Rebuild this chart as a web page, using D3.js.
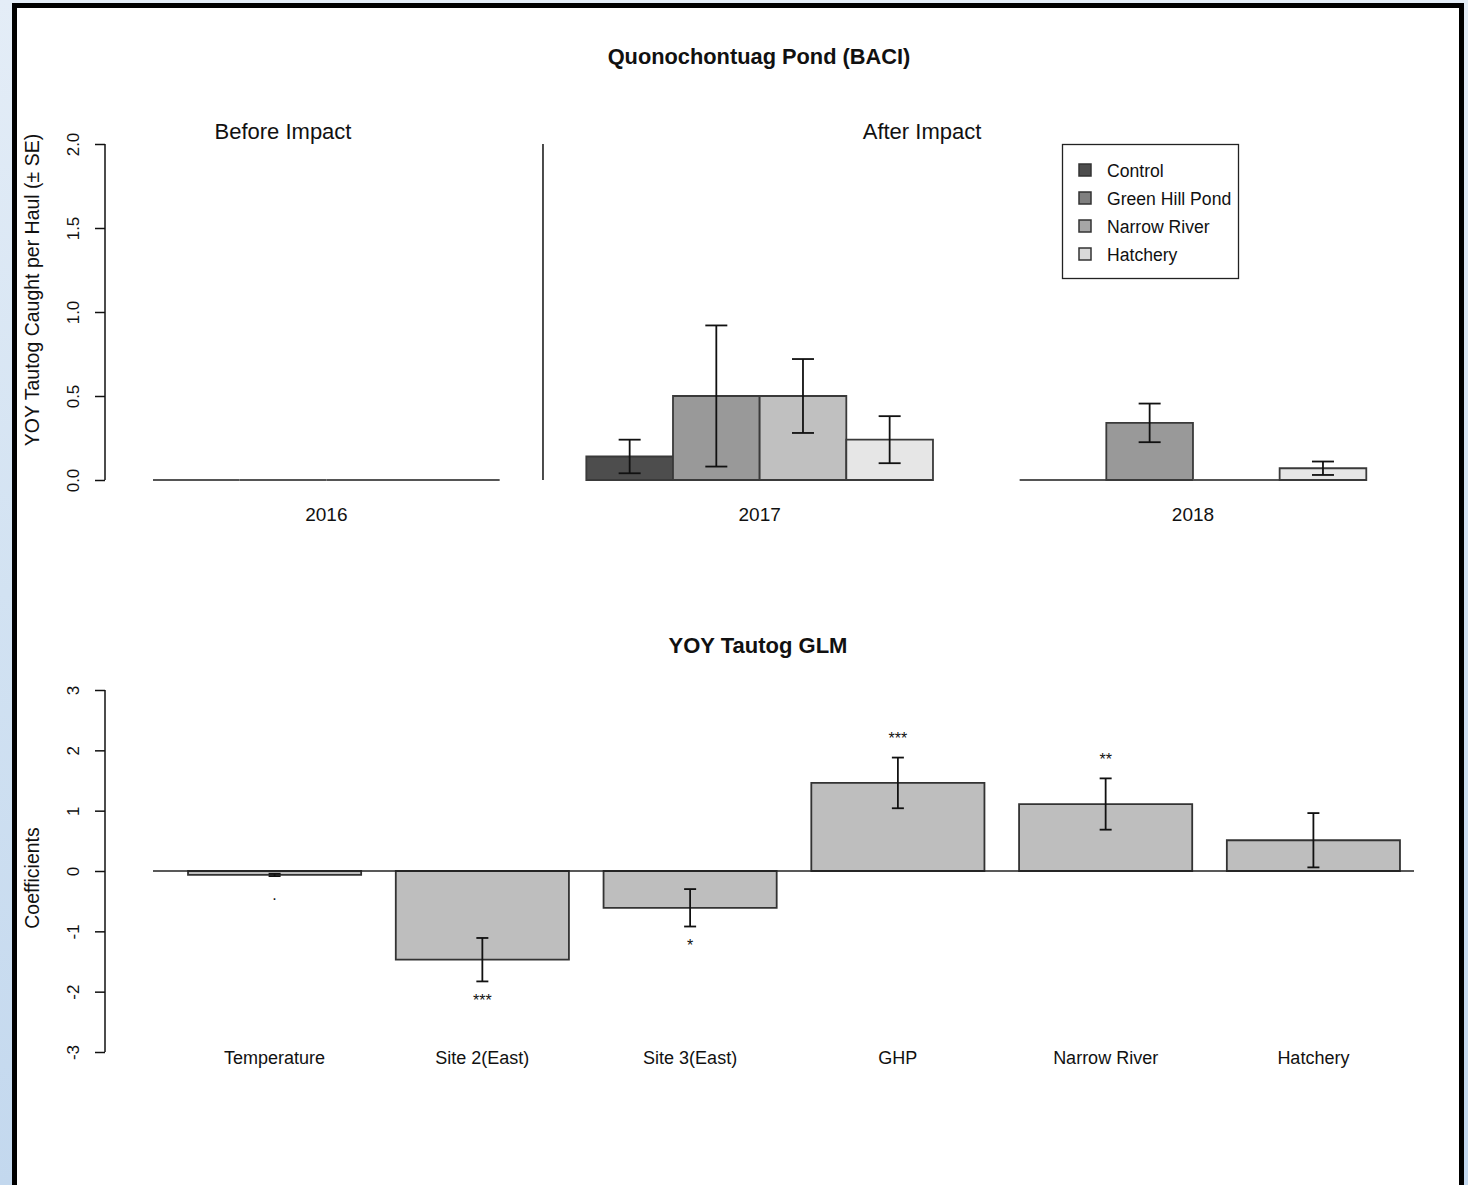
<!DOCTYPE html>
<html>
<head>
<meta charset="utf-8">
<script src="https://cdn.jsdelivr.net/npm/d3@7"></script>
<style>
  html, body { margin: 0; padding: 0; }
  body { width: 1468px; height: 1185px; overflow: hidden;
         background: linear-gradient(to bottom, #e4edf7 0%, #d2e2f2 50%, #c3d8ee 100%); }
  svg { display: block; }
  text { font-family: "Liberation Sans", Arial, sans-serif; fill: #111; }
</style>
</head>
<body>
<script>
// ---------- data ----------
const years = ["2016", "2017", "2018"];
const sites = ["Control", "Green Hill Pond", "Narrow River", "Hatchery"];
// mean YOY tautog per haul, rows = years, columns = sites
const means2016 = [0, 0, 0, 0];
const means2017 = [0.14, 0.50, 0.50, 0.24];
const means2018 = [0, 0.34, 0, 0.07];
const se2016 = [0, 0, 0, 0];
const se2017 = [0.10, 0.42, 0.22, 0.14];
const se2018 = [0, 0.115, 0, 0.04];
const topTicks = [0, 0.5, 1.0, 1.5, 2.0];

const glmTerms = ["Temperature", "Site 2(East)", "Site 3(East)", "GHP", "Narrow River", "Hatchery"];
const glmCoef = [-0.065, -1.47, -0.61, 1.46, 1.11, 0.51];
const glmSE = [0.02, 0.36, 0.31, 0.42, 0.425, 0.45];
const glmSig = [".", "***", "*", "***", "**", ""];
const bottomTicks = [-3, -2, -1, 0, 1, 2, 3];

// ---------- styles ----------
const barFill = ["#4d4d4d", "#999999", "#c0c0c0", "#e6e6e6"];
const legendFill = ["#4d4d4d", "#7f7f7f", "#a6a6a6", "#d9d9d9"];

const W = 1468, H = 1185;
const svg = d3.select("body").append("svg").attr("width", W).attr("height", H);

// frame
svg.append("rect").attr("x", 14.5).attr("y", 5.5).attr("width", 1447).attr("height", H + 20)
  .attr("fill", "#fff").attr("stroke", "#000").attr("stroke-width", 5);

function barPath(x, w, yv, y0) {
  return `M${x},${y0}V${yv}H${x + w}V${y0}Z`;
}

// ================= TOP PANEL =================
svg.append("text").attr("x", 759).attr("y", 64).attr("text-anchor", "middle")
  .attr("font-size", 21.8).attr("font-weight", "bold").text("Quonochontuag Pond (BACI)");

const yTop = d3.scaleLinear().domain([0, 2]).range([480, 144]);
// groups: each group = 4 bars, followed by a one-bar gap
const groupScale = d3.scaleBand().domain(years).range([153, 1366.3]).paddingInner(0.2).paddingOuter(0);
const barScale = d3.scaleBand().domain(sites).range([0, groupScale.bandwidth()]).padding(0);

const topData = [
  {year: "2016", means: means2016, se: se2016},
  {year: "2017", means: means2017, se: se2017},
  {year: "2018", means: means2018, se: se2018}
];

// y axis
const gTopAxis = svg.append("g").attr("transform", "translate(105,0)")
  .call(d3.axisLeft(yTop).tickValues(topTicks).tickSize(10).tickFormat(d3.format(".1f")));
gTopAxis.select(".domain").attr("stroke", "#111").attr("stroke-width", 1.5).attr("d", "M0,144V480");
gTopAxis.selectAll(".tick line").attr("stroke", "#111").attr("stroke-width", 1.5);
gTopAxis.selectAll(".tick text").attr("font-size", 17).attr("fill", "#222")
  .attr("font-family", "Liberation Sans, Arial, sans-serif")
  .attr("text-anchor", "middle").attr("x", 0).attr("dy", 0)
  .attr("transform", "translate(-30,0) rotate(-90)").attr("y", 0)
  .attr("dominant-baseline", "middle");

svg.append("text").attr("transform", "translate(39,290) rotate(-90)")
  .attr("text-anchor", "middle").attr("font-size", 19.5).attr("fill", "#222")
  .text("YOY Tautog Caught per Haul (± SE)");

const groups = svg.selectAll(".yr").data(topData).enter().append("g")
  .attr("transform", d => `translate(${groupScale(d.year)},0)`);

groups.selectAll("path.bar").data(d => d.means.map((m, i) => ({m, i, site: sites[i]})))
  .enter().append("path").attr("class", "bar")
  .attr("d", d => barPath(barScale(d.site), barScale.bandwidth(), yTop(d.m), yTop(0)))
  .attr("fill", d => barFill[d.i]).attr("stroke", d => d.m === 0 ? "#555" : "#3a3a3a").attr("stroke-width", 1.8);

// error bars
groups.each(function(d) {
  const g = d3.select(this);
  d.means.forEach((m, i) => {
    if (d.se[i] <= 0) return;
    const cx = barScale(sites[i]) + barScale.bandwidth() / 2;
    const y1 = yTop(m + d.se[i]), y2 = yTop(Math.max(0, m - d.se[i]));
    g.append("line").attr("x1", cx).attr("x2", cx).attr("y1", y1).attr("y2", y2)
      .attr("stroke", "#111").attr("stroke-width", 1.8);
    [y1, y2].forEach(yy => g.append("line").attr("x1", cx - 11).attr("x2", cx + 11)
      .attr("y1", yy).attr("y2", yy).attr("stroke", "#111").attr("stroke-width", 1.8));
  });
});

// year labels
svg.selectAll(".yl").data(years).enter().append("text")
  .attr("x", d => groupScale(d) + groupScale.bandwidth() / 2).attr("y", 521)
  .attr("text-anchor", "middle").attr("font-size", 19).attr("fill", "#222").text(d => d);

// separator between before / after
const sepX = groupScale("2016") + groupScale.bandwidth() + groupScale.step() * 0.2 / 2;
svg.append("line").attr("x1", sepX).attr("x2", sepX).attr("y1", yTop(2)).attr("y2", yTop(0))
  .attr("stroke", "#111").attr("stroke-width", 1.5);

svg.append("text").attr("x", 283).attr("y", 139).attr("text-anchor", "middle")
  .attr("font-size", 22).text("Before Impact");
svg.append("text").attr("x", 922).attr("y", 139).attr("text-anchor", "middle")
  .attr("font-size", 22).text("After Impact");

// legend
const leg = svg.append("g");
leg.append("rect").attr("x", 1062.5).attr("y", 144.5).attr("width", 176).attr("height", 134)
  .attr("fill", "#fff").attr("stroke", "#222").attr("stroke-width", 1.3);
sites.forEach((s, i) => {
  const yy = 170 + i * 28;
  leg.append("rect").attr("x", 1079).attr("y", yy - 6).attr("width", 12).attr("height", 12)
    .attr("fill", legendFill[i]).attr("stroke", "#333").attr("stroke-width", 1.5);
  leg.append("text").attr("x", 1107).attr("y", yy + 1).attr("dominant-baseline", "central")
    .attr("font-size", 17.6).attr("fill", "#1a1a1a").text(s);
});

// ================= BOTTOM PANEL =================
svg.append("text").attr("x", 758).attr("y", 653).attr("text-anchor", "middle")
  .attr("font-size", 22).attr("font-weight", "bold").text("YOY Tautog GLM");

const yBot = d3.scaleLinear().domain([-3, 3]).range([1052, 690]);
const xBot = d3.scaleBand().domain(glmTerms).range([153.4, 1434.6]).paddingInner(1/6).paddingOuter(1/6);

const gBotAxis = svg.append("g").attr("transform", "translate(105,0)")
  .call(d3.axisLeft(yBot).tickValues(bottomTicks).tickSize(10).tickFormat(d3.format("d")));
gBotAxis.select(".domain").attr("stroke", "#111").attr("stroke-width", 1.5).attr("d", "M0,690V1052");
gBotAxis.selectAll(".tick line").attr("stroke", "#111").attr("stroke-width", 1.5);
gBotAxis.selectAll(".tick text").attr("font-size", 17).attr("fill", "#222")
  .attr("font-family", "Liberation Sans, Arial, sans-serif")
  .attr("text-anchor", "middle").attr("x", 0).attr("y", 0).attr("dy", 0)
  .attr("transform", "translate(-30,0) rotate(-90)")
  .attr("dominant-baseline", "middle")
  .text(d => d < 0 ? "-" + Math.abs(d) : d);

svg.append("text").attr("transform", "translate(39,878) rotate(-90)")
  .attr("text-anchor", "middle").attr("font-size", 19.5).attr("fill", "#222").text("Coefficients");

const glm = glmTerms.map((t, i) => ({t, c: glmCoef[i], se: glmSE[i], sig: glmSig[i]}));

svg.selectAll(".gb").data(glm).enter().append("path")
  .attr("d", d => barPath(xBot(d.t), xBot.bandwidth(), yBot(d.c), yBot(0)))
  .attr("fill", "#bebebe").attr("stroke", "#333").attr("stroke-width", 1.8);

// zero line
svg.append("line").attr("x1", 153).attr("x2", 1414).attr("y1", yBot(0)).attr("y2", yBot(0))
  .attr("stroke", "#222").attr("stroke-width", 1.5);

// error bars
glm.forEach(d => {
  const cx = xBot(d.t) + xBot.bandwidth() / 2;
  const y1 = yBot(d.c + d.se), y2 = yBot(d.c - d.se);
  svg.append("line").attr("x1", cx).attr("x2", cx).attr("y1", y1).attr("y2", y2)
    .attr("stroke", "#111").attr("stroke-width", 1.8);
  [y1, y2].forEach(yy => svg.append("line").attr("x1", cx - 6).attr("x2", cx + 6)
    .attr("y1", yy).attr("y2", yy).attr("stroke", "#111").attr("stroke-width", 1.8));
});

// significance labels
svg.selectAll(".sig").data(glm).enter().append("text")
  .attr("x", d => xBot(d.t) + xBot.bandwidth() / 2)
  .attr("y", d => yBot(d.c + Math.sign(d.c) * (d.se + 0.31)))
  .attr("dy", "0.35em").attr("text-anchor", "middle").attr("font-size", 16).attr("fill", "#333")
  .text(d => d.sig);

// x labels
svg.selectAll(".xl").data(glm).enter().append("text")
  .attr("x", d => xBot(d.t) + xBot.bandwidth() / 2).attr("y", 1064)
  .attr("text-anchor", "middle").attr("font-size", 18).attr("fill", "#222").text(d => d.t);
</script>
</body>
</html>
